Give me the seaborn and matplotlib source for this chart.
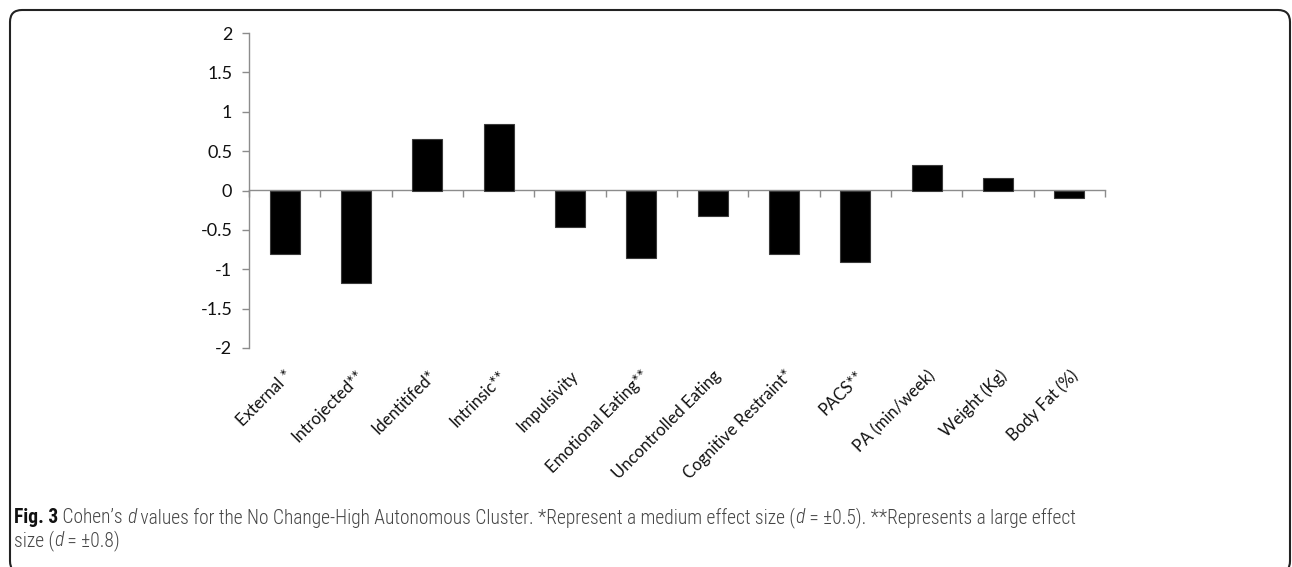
import matplotlib
matplotlib.use("Agg")
import numpy as np
import pandas as pd
import seaborn as sns
import matplotlib.pyplot as plt
from matplotlib import font_manager
from matplotlib.patches import FancyBboxPatch

# Cohen's d per measure
categories = ["External *", "Introjected**", "Identitifed*", "Intrinsic**", "Impulsivity",
              "Emotional Eating**", "Uncontrolled Eating", "Cognitive Restraint*", "PACS**",
              "PA (min/week)", "Weight (Kg)", "Body Fat (%)"]
cohens_d = [-0.80, -1.17, 0.65, 0.84, -0.46, -0.86, -0.33, -0.80, -0.91, 0.33, 0.16, -0.10]
y_ticks = [-2, -1.5, -1, -0.5, 0, 0.5, 1, 1.5, 2]
y_tick_labels = ["-2", "-1.5", "-1", "-0.5", "0", "0.5", "1", "1.5", "2"]

W, H = 1292, 567
sns.set_theme(style="white")
plt.rcParams["font.family"] = ["Lato", "DejaVu Sans"]

installed = {f.name for f in font_manager.fontManager.ttflist}
cap_family = next((f for f in ["Roboto Condensed", "Liberation Sans Narrow", "Open Sans"]
                   if f in installed), "DejaVu Sans")
light_ok = any(f.name == cap_family and f.weight in (300, "light") for f in font_manager.fontManager.ttflist)
body_weight = "light" if light_ok else "normal"

fig = plt.figure(figsize=(W / 100, H / 100), dpi=100)
ax = fig.add_axes([249 / W, 1 - 348 / H, (1105 - 249) / W, (348 - 33) / H])

df = pd.DataFrame({"measure": categories, "d": cohens_d})
sns.barplot(data=df, x="measure", y="d", color="black", saturation=1, width=0.42,
            edgecolor="#3a3a3a", linewidth=0.8, ax=ax, zorder=3)

ax.set_xlim(-0.5, len(categories) - 0.5)
ax.set_ylim(-2, 2)
ax.set_yticks(y_ticks)
ax.set_yticklabels(y_tick_labels)
ax.set_xlabel("")
ax.set_ylabel("")
for s in ["top", "right", "bottom"]:
    ax.spines[s].set_visible(False)
ax.spines["left"].set_color("#8c8c8c")
ax.spines["left"].set_linewidth(1.0)
ax.tick_params(axis="y", left=True, direction="out", length=5, width=1,
               color="#8c8c8c", labelsize=13, pad=7, labelcolor="#111111")
ax.tick_params(axis="x", bottom=False, length=0, labelsize=12, pad=14, labelcolor="#111111")
plt.setp(ax.get_xticklabels(), rotation=45, ha="right", rotation_mode="anchor")

# category axis drawn along d = 0 with boundary ticks
zero_axis = ax.secondary_xaxis(0.5)
zero_axis.set_xticks(np.arange(-0.5, len(categories), 1.0))
zero_axis.tick_params(direction="in", length=5, width=1, color="#8c8c8c",
                      labeltop=False, labelbottom=False)
for sp in zero_axis.spines.values():
    sp.set_color("#8c8c8c")
    sp.set_linewidth(1.0)

# outer rounded frame
frame = FancyBboxPatch((10, -6), 1280, H - 8 + 6 - 2,
                       boxstyle="round,pad=0,rounding_size=12",
                       transform=None, fill=False, edgecolor="#222222", linewidth=1.5)
fig.patches.append(frame)

# caption, drawn as styled runs
txt_col = "#454545"
line1 = [("Fig. 3", "bold", "normal", "#111111"),
         (" Cohen\u2019s ", body_weight, "normal", txt_col),
         ("d", body_weight, "italic", txt_col),
         (" values for the No Change-High Autonomous Cluster. *Represent a medium effect size (",
          body_weight, "normal", txt_col),
         ("d", body_weight, "italic", txt_col),
         (" = \u00b10.5). **Represents a large effect", body_weight, "normal", txt_col)]
line2 = [("size (", body_weight, "normal", txt_col),
         ("d", body_weight, "italic", txt_col),
         (" = \u00b10.8)", body_weight, "normal", txt_col)]

renderer = fig.canvas.get_renderer()


def draw_runs(runs, x0, baseline, size, draw=True):
    x = x0
    artists = []
    for txt, weight, style, color in runs:
        t = fig.text(x / W, 1 - baseline / H, txt, fontsize=size, fontweight=weight,
                     fontstyle=style, color=color, family=[cap_family, "DejaVu Sans"],
                     ha="left", va="baseline")
        x += t.get_window_extent(renderer).width
        artists.append(t)
    if not draw:
        for a in artists:
            a.remove()
    return x - x0


base_size = 12
w = draw_runs(line1, 14, 523, base_size, draw=False)
cap_size = base_size * (1078 - 14) / w
draw_runs(line1, 14, 523, cap_size)
draw_runs(line2, 14, 546, cap_size)

fig.savefig("out.png", dpi=100)
